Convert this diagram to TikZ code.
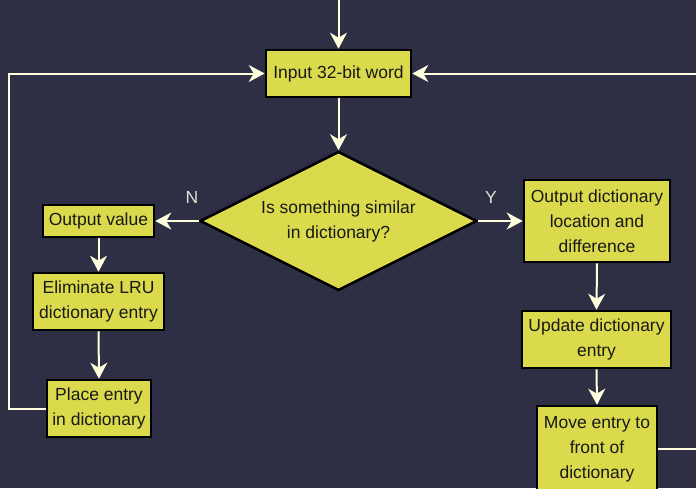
\documentclass[tikz,border=0pt]{standalone}
\usepackage{fontspec}
\setmainfont{Liberation Sans}
\usetikzlibrary{shapes.geometric,arrows.meta}
\definecolor{bgnavy}{RGB}{46,47,69}
\definecolor{boxfill}{RGB}{218,218,76}
\definecolor{linecream}{RGB}{255,255,222}
\definecolor{labelgray}{RGB}{225,225,210}
\tikzset{
  procbox/.style={draw=black, line width=2.6pt, fill=boxfill, inner sep=0pt,
    align=center, font=\fontsize{17.5}{25}\selectfont, text=black!90},
  decision/.style={diamond, draw=black, line width=2.6pt, fill=boxfill, inner sep=0pt,
    aspect=2, align=center, font=\fontsize{17.5}{25}\selectfont, text=black!90},
  flow/.style={draw=linecream, line width=2pt,
    -{Stealth[length=16pt,width=17pt,inset=5pt]}},
  plainline/.style={draw=linecream, line width=2pt},
  branchlabel/.style={text=labelgray, font=\fontsize{17.5}{20}\selectfont}
}
\begin{document}
\begin{tikzpicture}[x=1pt,y=-1pt]
  \fill[bgnavy] (0,0) rectangle (696,488);
  \useasboundingbox (0,0) rectangle (696,488);

  % process steps
  \node[procbox, minimum width=145pt, minimum height=47pt] (in) at (338.5,73.5) {Input 32-bit word};
  \node[decision, minimum width=277pt, minimum height=139pt] (q) at (338.5,221) {Is something similar\\in dictionary?};
  \node[procbox, minimum width=111pt, minimum height=32pt] (ov) at (98.5,221) {Output value};
  \node[procbox, minimum width=131pt, minimum height=57pt] (elim) at (98.5,301.5) {Eliminate LRU\\dictionary entry};
  \node[procbox, minimum width=104pt, minimum height=57pt] (place) at (99,408.5) {Place entry\\in dictionary};
  \node[procbox, minimum width=146pt, minimum height=82pt] (od) at (597,221) {Output dictionary\\location and\\difference};
  \node[procbox, minimum width=149pt, minimum height=57pt] (upd) at (596.5,339.5) {Update dictionary\\entry};
  \node[procbox, minimum width=120pt, minimum height=86pt] (mv) at (597,449) {Move entry to\\front of\\dictionary};

  % branch labels
  \node[branchlabel] (nlab) at (192,197) {N};
  \node[branchlabel] (ylab) at (491,197) {Y};

  % connectors
  \coordinate (entry) at (338.5,-5);
  \coordinate (leftrail) at (8.5,0);
  \coordinate (rightrail) at (720,0);
  \draw[flow] (entry) -- (in.north);
  \draw[flow] (in.south) -- (q.north);
  \draw[flow] (q.west) -- (ov.east);
  \draw[flow] (q.east) -- (od.west);
  \draw[flow] (ov.south) -- (elim.north);
  \draw[flow] (elim.south) -- (place.north);
  \draw[flow] (od.south) -- (upd.north);
  \draw[flow] (upd.south) -- (mv.north);
  \draw[flow] (place.west) -| (leftrail |- in.west) -- (in.west);
  \draw[plainline] (mv.east) -- (rightrail |- mv.east);
  \draw[flow] (rightrail |- in.east) -- (in.east);
\end{tikzpicture}
\end{document}
